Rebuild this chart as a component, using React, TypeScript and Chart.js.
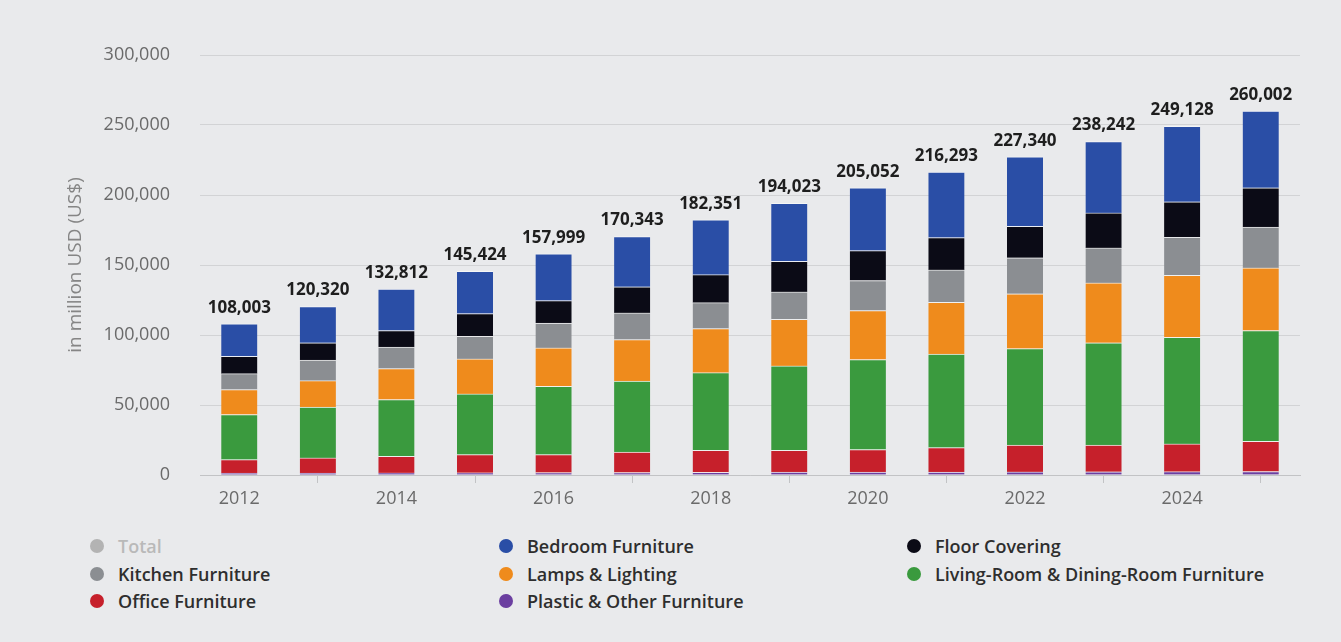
import React, { useEffect, useRef } from "react";
import { Chart, registerables } from "chart.js";

Chart.register(...registerables);

const years = ["2012", "2013", "2014", "2015", "2016", "2017", "2018", "2019", "2020", "2021", "2022", "2023", "2024", "2025"];
const totals = [108003, 120320, 132812, 145424, 157999, 170343, 182351, 194023, 205052, 216293, 227340, 238242, 249128, 260002];
const plasticOther = [1300, 1400, 1500, 1600, 1700, 1800, 1900, 2000, 2000, 2100, 2200, 2300, 2400, 2500];
const office = [9700, 10800, 11900, 13000, 12900, 14500, 15800, 15700, 16200, 17500, 19100, 19000, 19800, 21600];
const livingDining = [32200, 36400, 40500, 43300, 48800, 50700, 55400, 60200, 64300, 66700, 69000, 73100, 76200, 79100];
const lamps = [17800, 18800, 22100, 25000, 27400, 29700, 31500, 33300, 35000, 37100, 39100, 42800, 44300, 44700];
const kitchen = [11400, 14600, 15300, 16200, 17800, 19100, 18500, 19600, 21400, 23100, 25700, 25000, 27100, 29100];
const floorCovering = [12400, 12400, 11900, 16200, 16000, 18600, 20000, 21900, 21400, 23100, 22600, 25000, 25300, 28100];
const bedroom = [23203, 25920, 29612, 30124, 33399, 35943, 39251, 41323, 44752, 46693, 49640, 51042, 54028, 54902];
const yTicks = [0, 50000, 100000, 150000, 200000, 250000, 300000];

const COLORS = {
  total: "#b3b3b3",
  bedroom: "#2a4ea6",
  floor: "#0b0b16",
  kitchen: "#8b8e92",
  lamps: "#ef8b1c",
  living: "#3a9a3e",
  office: "#c6202b",
  plastic: "#6b3fa0",
};

const legendItems = [
  { label: "Total", color: COLORS.total, col: 0, row: 0, muted: true },
  { label: "Kitchen Furniture", color: COLORS.kitchen, col: 0, row: 1 },
  { label: "Office Furniture", color: COLORS.office, col: 0, row: 2 },
  { label: "Bedroom Furniture", color: COLORS.bedroom, col: 1, row: 0 },
  { label: "Lamps & Lighting", color: COLORS.lamps, col: 1, row: 1 },
  { label: "Plastic & Other Furniture", color: COLORS.plastic, col: 1, row: 2 },
  { label: "Floor Covering", color: COLORS.floor, col: 2, row: 0 },
  { label: "Living-Room & Dining-Room Furniture", color: COLORS.living, col: 2, row: 1 },
];

const FONT = "'Open Sans', 'Noto Sans', sans-serif";

const totalLabels = {
  id: "totalLabels",
  afterDatasetsDraw(chart: any) {
    const ctx = chart.ctx;
    const xs = chart.scales.x;
    const ys = chart.scales.y;
    ctx.save();
    ctx.font = `bold 17px ${FONT}`;
    ctx.fillStyle = "#1e1e1e";
    ctx.textAlign = "center";
    ctx.textBaseline = "middle";
    totals.forEach((t, i) => {
      const x = xs.getPixelForValue(i);
      const y = ys.getPixelForValue(t);
      ctx.fillText(t.toLocaleString("en-US"), x, y - 16);
    });
    ctx.restore();
  },
};

export default function App() {
  const ref = useRef<HTMLCanvasElement | null>(null);

  useEffect(() => {
    document.body.style.margin = "0";
    document.body.style.background = "#e9eaec";
    const bar = (label: string, data: number[], color: string) => ({
      label,
      data,
      backgroundColor: color,
      borderColor: "rgba(255,255,255,0.55)",
      borderWidth: { top: 1, left: 0, right: 0, bottom: 0 },
      borderSkipped: false,
      barThickness: 36,
    });
    const chart = new Chart(ref.current as HTMLCanvasElement, {
      type: "bar",
      data: {
        labels: years,
        datasets: [
          bar("Plastic & Other Furniture", plasticOther, COLORS.plastic),
          bar("Office Furniture", office, COLORS.office),
          bar("Living-Room & Dining-Room Furniture", livingDining, COLORS.living),
          bar("Lamps & Lighting", lamps, COLORS.lamps),
          bar("Kitchen Furniture", kitchen, COLORS.kitchen),
          bar("Floor Covering", floorCovering, COLORS.floor),
          bar("Bedroom Furniture", bedroom, COLORS.bedroom),
        ] as any,
      },
      options: {
        animation: false,
        responsive: false,
        devicePixelRatio: 1,
        layout: { padding: { left: 62, right: 41, top: 55, bottom: 0 } },
        plugins: {
          legend: { display: false },
          tooltip: { enabled: false },
        },
        scales: {
          x: {
            stacked: true,
            grid: { drawOnChartArea: false, drawTicks: true, tickLength: 8, color: "#c2c3c5" },
            border: { display: true, color: "#c2c3c5" },
            ticks: {
              autoSkip: false,
              maxRotation: 0,
              padding: 5,
              color: "#6a6a6a",
              font: { family: FONT, size: 18 },
              callback: (_v: any, i: number) => (i % 2 === 0 ? years[i] : null),
            },
            afterFit: (s: any) => {
              s.height = 45;
            },
          },
          y: {
            stacked: true,
            min: 0,
            max: 300000,
            afterBuildTicks: (s: any) => {
              s.ticks = yTicks.map((v) => ({ value: v }));
            },
            grid: { color: "#d2d3d5", drawTicks: false },
            border: { display: false },
            ticks: {
              padding: 30,
              color: "#6a6a6a",
              font: { family: FONT, size: 18 },
              callback: (v: any) => Number(v).toLocaleString("en-US"),
            },
            title: {
              display: true,
              text: "in million USD (US$)",
              color: "#858585",
              font: { family: FONT, size: 19 },
              padding: { top: 2, bottom: 0 },
            },
            afterFit: (s: any) => {
              s.width = 138;
            },
          },
        },
      },
      plugins: [totalLabels],
    } as any);
    return () => chart.destroy();
  }, []);

  const colX = [90, 499, 907];
  const rowY = [546, 574, 601];

  return (
    <div style={{ position: "relative", width: 1341, height: 642, background: "#e9eaec", overflow: "hidden" }}>
      <canvas ref={ref} width={1341} height={520} style={{ position: "absolute", left: 0, top: 0, width: 1341, height: 520 }} />
      {legendItems.map((it) => (
        <div
          key={it.label}
          style={{
            position: "absolute",
            left: colX[it.col],
            top: rowY[it.row] - 12,
            height: 24,
            display: "flex",
            alignItems: "center",
            fontFamily: FONT,
            fontWeight: 600,
            fontSize: 18,
            color: it.muted ? "#b9b9b9" : "#2e2e2e",
            whiteSpace: "nowrap",
          }}
        >
          <span
            style={{
              display: "inline-block",
              width: 14,
              height: 14,
              borderRadius: "50%",
              background: it.color,
              marginRight: 14,
            }}
          />
          {it.label}
        </div>
      ))}
    </div>
  );
}
